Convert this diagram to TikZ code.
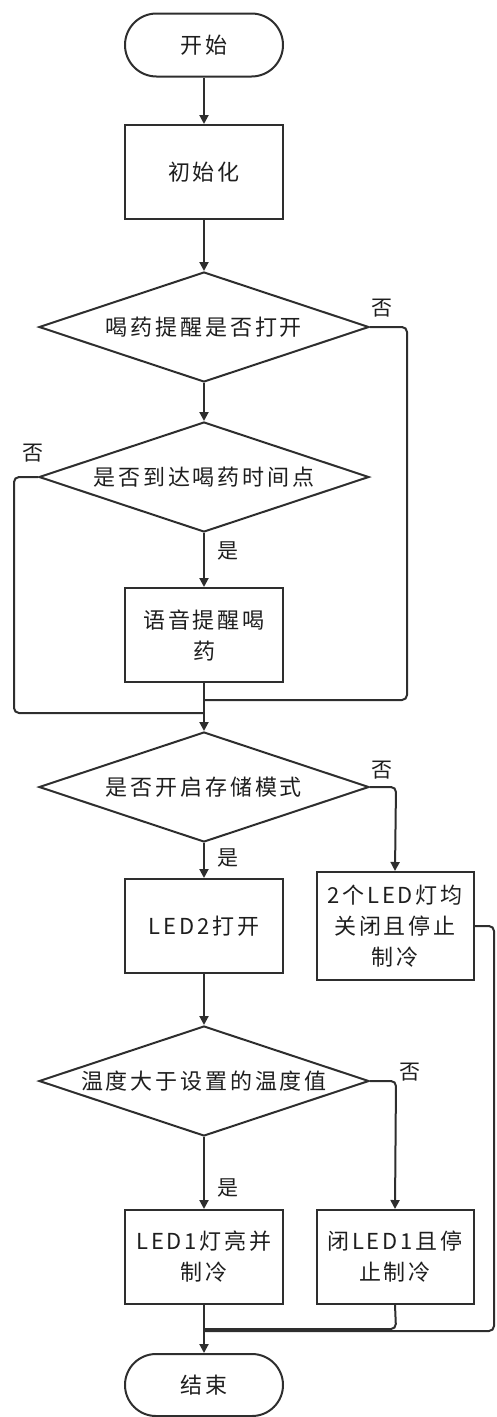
\documentclass[tikz,border=0pt]{standalone}
\usepackage{fontspec}
\setmainfont{Noto Sans CJK SC}
\newfontfamily\cjk[LetterSpace=13]{Noto Sans CJK SC}
\usetikzlibrary{shapes.geometric,shapes.misc,arrows.meta}
\definecolor{ln}{HTML}{2E2E2E}
\definecolor{tx}{HTML}{1E1E1E}
\tikzset{
  base/.style={draw=ln, line width=2pt, text=tx, font=\cjk\fontsize{22}{31}\selectfont, align=center, inner sep=0pt},
  term/.style={base, rounded rectangle, minimum width=158pt, minimum height=63pt},
  proc/.style={base, rectangle, minimum width=158pt, minimum height=94pt},
  dec/.style={base, diamond, shape aspect=3, minimum width=330pt, minimum height=110pt},
  conn/.style={draw=ln, line width=2pt, rounded corners=5pt},
  arr/.style={conn, -{Triangle[length=9pt,width=9pt]}},
  lab/.style={text=tx, font=\cjk\fontsize{21}{24}\selectfont, inner sep=0pt}
}
\begin{document}
\begin{tikzpicture}[x=1pt,y=-1pt]
\useasboundingbox (0,0) rectangle (496,1417);
\node[term] (start) at (204,45) {开始};
\node[proc] (init) at (204,172) {初始化};
\node[dec] (d1) at (204,327) {喝药提醒是否打开};
\node[dec] (d2) at (204,477) {是否到达喝药时间点};
\node[proc] (voice) at (204,635) {语音提醒喝\\药};
\node[dec] (d3) at (204,787) {是否开启存储模式};
\node[proc] (led2) at (204,926) {LED2打开};
\node[proc, minimum width=157pt, minimum height=108pt] (off2) at (395,926) {2个LED灯均\\关闭且停止\\制冷};
\node[dec] (d4) at (204,1081) {温度大于设置的温度值};
\node[proc] (led1) at (204,1257) {LED1灯亮并\\制冷};
\node[proc, minimum width=157pt] (off1) at (395,1257) {闭LED1且停\\止制冷};
\node[term, minimum height=62pt] (end) at (204,1385) {结束};

\coordinate (m1) at (204,700);
\coordinate (m2) at (204,713);
\coordinate (e1) at (204,1329);
\coordinate (e2) at (204,1331);

\draw[arr] (start) -- (init);
\draw[arr] (init) -- (d1);
\draw[arr] (d1) -- (d2);
\draw[conn] (d1.east) -- (407,327) -- (407,700) -- (m1);
\draw[conn] (d2.west) -- (14,477) -- (14,713) -- (m2);
\draw[arr] (d2) -- (voice);
\draw[arr] (voice) -- (d3);
\draw[arr] (d3) -- (led2);
\draw[arr] (d3.east) -- (396,787) -- (off2.north);
\draw[arr] (led2) -- (d4);
\draw[arr] (d4) -- (led1);
\draw[arr] (d4.east) -- (396,1081) -- (off1.north);
\draw[conn] (off2.east) -- (494,926) -- (494,1331) -- (e2);
\draw[conn] (off1.south) -- (396,1329) -- (e1);
\draw[arr] (led1) -- (end);

\node[lab] (n1) at (382,308) {否};
\node[lab] (n2) at (33,453) {否};
\node[lab] (n3) at (382,770) {否};
\node[lab] (n4) at (410,1072) {否};
\node[lab] (y1) at (228,551) {是};
\node[lab] (y2) at (228,858) {是};
\node[lab] (y3) at (228,1188) {是};
\end{tikzpicture}
\end{document}
